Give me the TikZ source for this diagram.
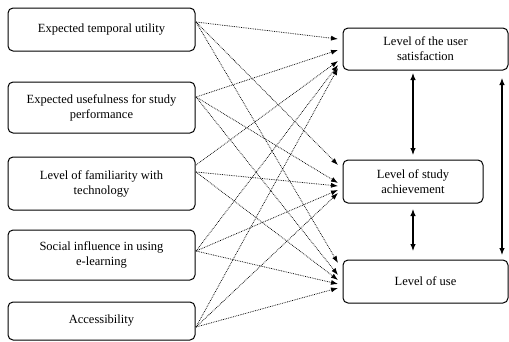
\documentclass[tikz,border=0pt]{standalone}
\usepackage{fontspec}
\setmainfont{Liberation Serif}
\usetikzlibrary{arrows.meta}
\begin{document}
\begin{tikzpicture}[x=1pt,y=-1pt,
  box/.style={draw,line width=1pt,rounded corners=5pt,align=center,font=\fontsize{12.5}{15}\selectfont,inner sep=0pt},
  dl/.style={densely dotted,line width=0.75pt,-{Latex[length=7pt,width=5pt]}},
  sl/.style={line width=1.1pt,{Latex[length=7pt,width=5.5pt]}-{Latex[length=7pt,width=5.5pt]}}]
\useasboundingbox (0,0) rectangle (509,341);
% left boxes
\node[box,minimum width=187pt,minimum height=43pt] (a) at (101.5,29.5) {Expected temporal utility};
\node[box,minimum width=187pt,minimum height=51pt] (b) at (101.5,107.5) {Expected usefulness for study\\performance};
\node[box,minimum width=187pt,minimum height=53pt] (c) at (101.5,183.5) {Level of familiarity with\\technology};
\node[box,minimum width=187pt,minimum height=50pt] (d) at (101.5,255) {Social influence in using\\e-learning};
\node[box,minimum width=187pt,minimum height=38pt] (e) at (101.5,321) {Accessibility};
% right boxes
\node[box,minimum width=165pt,minimum height=42pt] (r1) at (425.5,49) {Level of the user\\satisfaction};
\node[box,minimum width=140pt,minimum height=43pt] (r2) at (413,181.5) {Level of study\\achievement};
\node[box,minimum width=165pt,minimum height=43pt] (r3) at (425.5,281.5) {Level of use};
% start points
\coordinate (sa) at (196,22);
\coordinate (sb) at (196,97);
\coordinate (sc1) at (196,165);
\coordinate (sc2) at (196,172);
\coordinate (sd) at (196,251);
\coordinate (se) at (196,327);
% targets
\coordinate (t11) at (338,39);
\coordinate (t12) at (338,50);
\coordinate (t13) at (338,61);
\coordinate (t14) at (338,65);
\coordinate (t15) at (338,68);
\coordinate (t21) at (338,165);
\coordinate (t22) at (338,183);
\coordinate (t23) at (338,186);
\coordinate (t24) at (338,190);
\coordinate (t25) at (338,193);
\coordinate (t31) at (338,263);
\coordinate (t32) at (338,275);
\coordinate (t33) at (338,280);
\coordinate (t34) at (338,284);
\coordinate (t35) at (338,288);
\draw[dl] (sa) -- (t11);
\draw[dl] (sa) -- (t21);
\draw[dl] (sa) -- (t31);
\draw[dl] (sb) -- (t12);
\draw[dl] (sb) -- (t22);
\draw[dl] (sb) -- (t32);
\draw[dl] (sc1) -- (t13);
\draw[dl] (sc2) -- (t23);
\draw[dl] (sc2) -- (t33);
\draw[dl] (sd) -- (t14);
\draw[dl] (sd) -- (t24);
\draw[dl] (sd) -- (t34);
\draw[dl] (se) -- (t15);
\draw[dl] (se) -- (t25);
\draw[dl] (se) -- (t35);
% solid arrows
\coordinate (u1) at (413,73);
\coordinate (u2) at (413,155);
\coordinate (v1) at (413,209);
\coordinate (v2) at (413,251);
\coordinate (w1) at (502,78);
\coordinate (w2) at (502,255);
\draw[sl] (u1) -- (u2);
\draw[sl] (v1) -- (v2);
\draw[sl] (w1) -- (w2);
\end{tikzpicture}
\end{document}
